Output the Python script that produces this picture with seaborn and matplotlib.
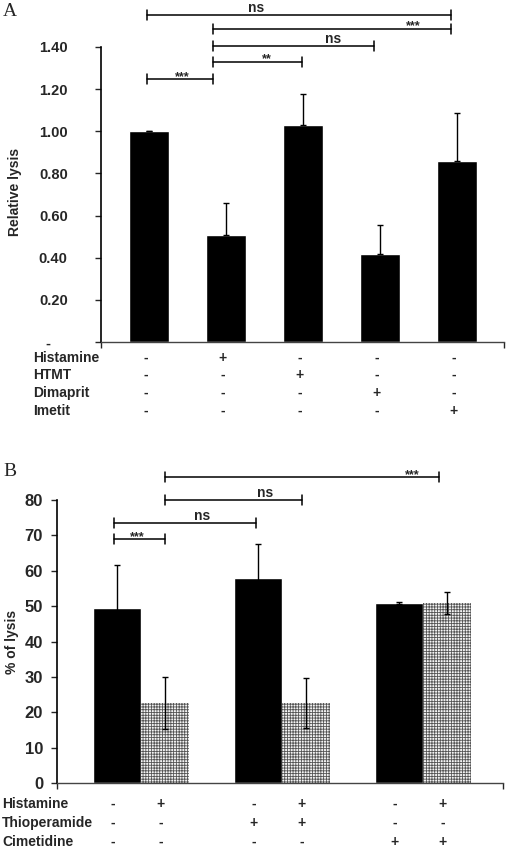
import numpy as np
import pandas as pd
import matplotlib
matplotlib.use("Agg")
import matplotlib.pyplot as plt
import seaborn as sns

# Panel A: relative lysis
a_cats = ["c1", "c2", "c3", "c4", "c5"]
a_vals = [1.00, 0.51, 1.03, 0.42, 0.86]
a_err = [0.0, 0.15, 0.145, 0.136, 0.225]
a_rows = ["Histamine", "HTMT", "Dimaprit", "Imetit"]
a_signs = [["-", "+", "-", "-", "-"],
           ["-", "-", "+", "-", "-"],
           ["-", "-", "-", "+", "-"],
           ["-", "-", "-", "-", "+"]]
a_yticks = [0, 0.2, 0.4, 0.6, 0.8, 1.0, 1.2, 1.4]
a_yticklabels = ["-    ", "0.20", "0.40", "0.60", "0.80", "1.00", "1.20", "1.40"]
# brackets: x start, x end, y, label, label x
a_brackets = [(-0.03, 3.92, 1.553, "ns", 1.39),
              (0.83, 3.92, 1.486, "***", 3.43),
              (0.83, 2.92, 1.405, "ns", 2.39),
              (0.83, 1.99, 1.329, "**", 1.53),
              (-0.03, 0.83, 1.248, "***", 0.43)]

# Panel B: % of lysis
b_groups = ["g1", "g2", "g3"]
b_hue = ["no histamine", "histamine"]
b_vals = {"no histamine": [49.5, 58.0, 50.9], "histamine": [22.7, 22.7, 51.0]}
b_err = {"no histamine": [12.1, 9.5, 0.4], "histamine": [7.4, 7.1, 3.1]}
b_rows = ["Histamine", "Thioperamide", "Cimetidine"]
b_signs = [["-", "+", "-", "+", "-", "+"],
           ["-", "-", "+", "+", "-", "-"],
           ["-", "-", "-", "-", "+", "+"]]
b_brackets = [(0.17, 2.11, 86.4, "***", 1.92),
              (0.17, 1.14, 80.0, "ns", 0.88),
              (-0.19, 0.816, 73.4, "ns", 0.43),
              (-0.19, 0.17, 68.9, "***", -0.03)]

sns.set_theme(style="white")
plt.rcParams["font.family"] = ["Liberation Sans", "DejaVu Sans"]
plt.rcParams["font.weight"] = "bold"
plt.rcParams["hatch.linewidth"] = 0.6

fig = plt.figure(figsize=(5.08, 8.5), dpi=100)
W, H = 508, 850


def bracket(ax, x0, x1, y, label, lx, h):
    ax.plot([x0, x1], [y, y], color="black", lw=1.1, clip_on=False)
    ax.plot([x0, x0], [y - h, y + h], color="black", lw=1.1, clip_on=False)
    ax.plot([x1, x1], [y - h, y + h], color="black", lw=1.1, clip_on=False)
    if label == "ns":
        ax.annotate(label, (lx, y), xytext=(0, 2.2), textcoords="offset points",
                    ha="center", va="baseline", fontsize=10, weight="bold",
                    annotation_clip=False)
    else:
        ax.annotate(label, (lx, y), xytext=(0, -0.5), textcoords="offset points",
                    ha="center", va="baseline", fontsize=9, weight="bold",
                    annotation_clip=False)


def style_axis(ax):
    sns.despine(ax=ax)
    ax.spines["left"].set_linewidth(1.2)
    ax.spines["bottom"].set_linewidth(1.0)
    ax.spines["bottom"].set_color("#444444")
    ax.spines["left"].set_color("black")
    ax.tick_params(axis="y", direction="out", length=4, width=1, left=True)
    ax.set_xlabel("")


# ---------- Panel A ----------
axA = fig.add_axes([101 / W, 1 - 342 / H, 403 / W, 295 / H])
dfA = pd.DataFrame({"cat": a_cats, "val": a_vals})
sns.barplot(data=dfA, x="cat", y="val", color="black", width=0.52,
            saturation=1, errorbar=None, ax=axA)
axA.errorbar(np.arange(len(a_cats)), a_vals,
             yerr=[np.zeros(len(a_err)), a_err], fmt="none",
             ecolor="black", elinewidth=1, capsize=2.5, capthick=1)
axA.set_xlim(-0.623, 4.61)
axA.set_ylim(0, 1.4)
axA.set_yticks(a_yticks)
axA.set_yticklabels(a_yticklabels)
style_axis(axA)
axA.tick_params(axis="y", pad=20, labelsize=10.5)
axA.set_xticks([-0.623, 4.61])
axA.set_xticklabels([])
axA.tick_params(axis="x", direction="out", length=4, width=1, bottom=True)
axA.set_ylabel("")
fig.text(15 / W, 1 - 192 / H, "Relative lysis", rotation=90, ha="center",
         va="center", fontsize=10)
for b in a_brackets:
    bracket(axA, b[0], b[1], b[2], b[3], b[4], 0.024)

rows_y = [358, 375, 393, 411]
for r, lab in enumerate(a_rows):
    fig.text(33 / W, 1 - rows_y[r] / H, lab, ha="left", va="center",
             fontsize=10)
    for i, s in enumerate(a_signs[r]):
        axA.text(i - 0.04, -(rows_y[r] - 342) / 295, s, ha="center",
                 va="center", fontsize=10, transform=axA.get_xaxis_transform())

fig.text(3 / W, 1 - 11 / H, "A", family="Liberation Serif", weight="normal",
         fontsize=14, ha="left", va="center")

# ---------- Panel B ----------
axB = fig.add_axes([57 / W, 1 - 783 / H, 446 / W, 283 / H])
dfB = pd.DataFrame({
    "group": b_groups * 2,
    "treat": [b_hue[0]] * 3 + [b_hue[1]] * 3,
    "val": b_vals[b_hue[0]] + b_vals[b_hue[1]],
})
sns.barplot(data=dfB, x="group", y="val", hue="treat", hue_order=b_hue,
            palette=["black", "white"], width=0.68, saturation=1,
            errorbar=None, legend=False, ax=axB)
for p in axB.patches:
    if p.get_facecolor()[0] > 0.5:
        p.set_facecolor("#f4f4f4")
        p.set_edgecolor("#555555")
        p.set_hatch("++++++")
        p.set_linewidth(0)
off = 0.68 / 4
xs = np.arange(len(b_groups))
axB.errorbar(xs - off, b_vals[b_hue[0]], yerr=b_err[b_hue[0]], fmt="none",
             ecolor="black", elinewidth=1, capsize=2.5, capthick=1)
axB.errorbar(xs + off, b_vals[b_hue[1]], yerr=b_err[b_hue[1]], fmt="none",
             ecolor="black", elinewidth=1, capsize=2.5, capthick=1)
axB.set_xlim(-0.596, 2.567)
axB.set_ylim(0, 80)
axB.set_yticks(range(0, 81, 10))
style_axis(axB)
axB.tick_params(axis="y", pad=6, labelsize=12)
axB.set_xticks([-0.596, 2.567])
axB.set_xticklabels([])
axB.tick_params(axis="x", direction="out", length=4, width=1, bottom=True)
axB.set_ylabel("")
fig.text(12 / W, 1 - 642 / H, "% of lysis", rotation=90, ha="center",
         va="center", fontsize=10)
for b in b_brackets:
    bracket(axB, b[0], b[1], b[2], b[3], b[4], 1.4)

rows_yb = [804, 823, 842]
bar_x = [x + d for x in xs for d in (-off, off)]
for r, lab in enumerate(b_rows):
    fig.text(2 / W, 1 - rows_yb[r] / H, lab, ha="left", va="center",
             fontsize=10)
    for i, s in enumerate(b_signs[r]):
        axB.text(bar_x[i] - 0.03, -(rows_yb[r] - 783) / 283, s, ha="center",
                 va="center", fontsize=10, transform=axB.get_xaxis_transform())

fig.text(3 / W, 1 - 472 / H, "B", family="Liberation Serif", weight="normal",
         fontsize=14, ha="left", va="center")

fig.savefig("out.png", dpi=100)
